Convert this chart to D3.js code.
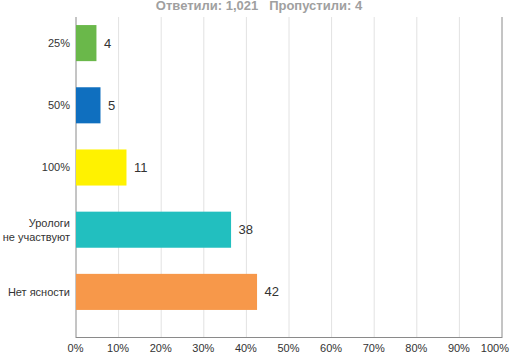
<!DOCTYPE html>
<html>
<head>
<meta charset="utf-8">
<script src="https://cdn.jsdelivr.net/npm/d3@7"></script>
<style>
  body { margin: 0; background: #fff; }
  text { font-family: "Liberation Sans", Arial, sans-serif; }
</style>
</head>
<body>
<div id="chart"></div>
<script>
const categories = ["25%", "50%", "100%", "Урологи\nне участвуют", "Нет ясности"];
const values = [4.8, 5.75, 11.85, 36.4, 42.5];
const valueLabels = ["4", "5", "11", "38", "42"];
const colors = ["#6ab84a", "#0f6fbf", "#fff200", "#22bfbf", "#f7984a"];
const ticks = [0, 10, 20, 30, 40, 50, 60, 70, 80, 90, 100];
const title = "Ответили: 1,021   Пропустили: 4";

const width = 511;
const height = 357;
const margin = { top: 17, right: 10, bottom: 20, left: 75.5 };

const x = d3.scaleLinear()
  .domain([0, 100])
  .range([margin.left, 501.5]);

const y = d3.scaleBand()
  .domain(categories)
  .range([12, 323])
  .paddingInner(0.42)
  .paddingOuter(0.21);

const svg = d3.select("#chart")
  .append("svg")
  .attr("width", width)
  .attr("height", height);

// grid
svg.append("g")
  .selectAll("line")
  .data(ticks)
  .join("line")
  .attr("x1", d => x(d) + 0.5)
  .attr("x2", d => x(d) + 0.5)
  .attr("y1", margin.top)
  .attr("y2", height - margin.bottom)
  .attr("stroke", d => (d === 0 || d === 100) ? "#8a8a8a" : "#e2e2e2")
  .attr("stroke-width", 1);

// bottom axis line
svg.append("line")
  .attr("x1", x(0))
  .attr("x2", x(100) + 1)
  .attr("y1", height - margin.bottom + 0.5)
  .attr("y2", height - margin.bottom + 0.5)
  .attr("stroke", "#8a8a8a");

// tick labels (last one pulled in so it fits)
svg.append("g")
  .selectAll("text")
  .data(ticks)
  .join("text")
  .attr("x", d => d === 100 ? width - 2 : x(d))
  .attr("y", 352)
  .attr("text-anchor", d => d === 100 ? "end" : "middle")
  .attr("font-size", 11)
  .attr("fill", "#333")
  .text(d => d + "%");

// bars
svg.append("g")
  .selectAll("rect")
  .data(categories)
  .join("rect")
  .attr("x", x(0) + 0.5)
  .attr("y", d => y(d))
  .attr("width", (d, i) => x(values[i]) - x(0))
  .attr("height", y.bandwidth())
  .attr("fill", (d, i) => colors[i]);

// value labels
svg.append("g")
  .selectAll("text")
  .data(categories)
  .join("text")
  .attr("x", (d, i) => x(values[i]) + 8)
  .attr("y", d => y(d) + y.bandwidth() / 2)
  .attr("dy", "0.35em")
  .attr("font-size", 13)
  .attr("fill", "#333")
  .text((d, i) => valueLabels[i]);

// category labels
const catLabels = svg.append("g")
  .selectAll("text")
  .data(categories)
  .join("text")
  .attr("text-anchor", "end")
  .attr("font-size", 11)
  .attr("fill", "#333");

catLabels.each(function (d) {
  const lines = d.split("\n");
  const cy = y(d) + y.bandwidth() / 2;
  const lh = 14;
  d3.select(this).selectAll("tspan")
    .data(lines)
    .join("tspan")
    .attr("x", 70)
    .attr("y", (l, j) => cy + (j - (lines.length - 1) / 2) * lh)
    .attr("dy", "0.35em")
    .text(l => l);
});

// title (top edge is clipped in the original too)
svg.append("text")
  .attr("x", 259)
  .attr("y", 10)
  .attr("text-anchor", "middle")
  .attr("font-size", 13)
  .attr("font-weight", "bold")
  .attr("fill", "#a0a0a0")
  .style("white-space", "pre")
  .text(title);
</script>
</body>
</html>
